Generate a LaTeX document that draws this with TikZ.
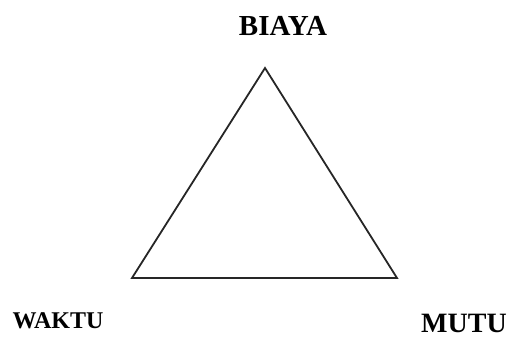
\documentclass[tikz,border=0pt]{standalone}
\usepackage{fontspec}
\setmainfont{Liberation Serif}
\usetikzlibrary{positioning}

\begin{document}
\begin{tikzpicture}[
  x=1pt, y=-1pt,
  corner/.style={font=\bfseries, inner sep=0pt, anchor=base},
  side/.style={draw=black!85, line width=1.8pt, line join=miter}
]
\useasboundingbox (0,0) rectangle (515,340);
\coordinate (top) at (265,68);
\coordinate (left) at (132,278);
\coordinate (right) at (397,278);
\node[corner, font=\fontsize{29}{31}\bfseries\selectfont] (biaya) at (283,35) {BIAYA};
\node[corner, font=\fontsize{24}{26}\bfseries\selectfont] (waktu) at (58,328) {WAKTU};
\node[corner, font=\fontsize{28}{30}\bfseries\selectfont] (mutu) at (464,332) {MUTU};
\draw[side] (top) -- (left) -- (right) -- cycle;
\end{tikzpicture}
\end{document}
